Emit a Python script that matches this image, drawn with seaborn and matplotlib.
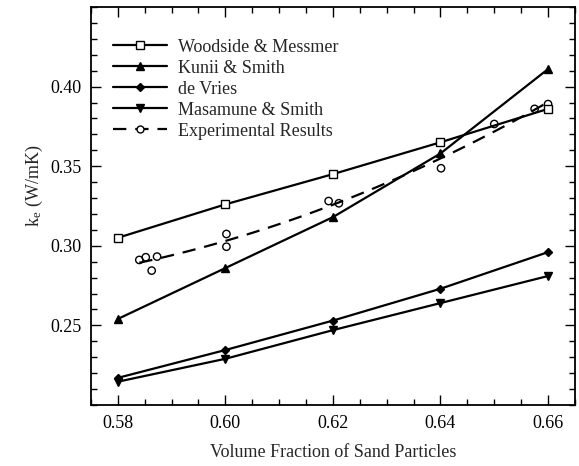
import matplotlib
matplotlib.use("Agg")
import matplotlib.pyplot as plt
from matplotlib.lines import Line2D
from matplotlib.ticker import MultipleLocator, FixedLocator, FormatStrFormatter
import seaborn as sns

# Volume fraction of sand particles at which the models were evaluated
volume_fraction = [0.58, 0.60, 0.62, 0.64, 0.66]

# Effective thermal conductivity predicted by each model (W/mK)
woodside_messmer = [0.305, 0.326, 0.345, 0.365, 0.386]
kunii_smith = [0.254, 0.286, 0.318, 0.358, 0.411]
de_vries = [0.217, 0.2345, 0.253, 0.273, 0.296]
masamune_smith = [0.2146, 0.229, 0.247, 0.264, 0.281]

# Measured effective thermal conductivity
exp_fraction = [0.5840, 0.5852, 0.5863, 0.5873, 0.6002, 0.6002,
                0.6192, 0.6211, 0.6401, 0.6500, 0.6575, 0.6600]
exp_conductivity = [0.2911, 0.2928, 0.2844, 0.2932, 0.3074, 0.2994,
                    0.3281, 0.3267, 0.3487, 0.3765, 0.3860, 0.3890]

x_ticks = [0.58, 0.60, 0.62, 0.64, 0.66]
y_ticks = [0.25, 0.30, 0.35, 0.40]

sns.set_style("ticks")
plt.rcParams["font.family"] = ["Liberation Serif", "DejaVu Serif"]
plt.rcParams["mathtext.fontset"] = "stix"

fig = plt.figure(figsize=(5.79, 4.66), dpi=100)
ax = fig.add_axes([0.157, 0.131, 0.836, 0.854])

models = [
    ("Woodside & Messmer", woodside_messmer, "s", "white"),
    ("Kunii & Smith", kunii_smith, "^", "black"),
    ("de Vries", de_vries, "D", "black"),
    ("Masamune & Smith", masamune_smith, "v", "black"),
]

handles = []
for label, values, marker, face in models:
    ms = 4 if marker == "D" else 5.5
    sns.lineplot(x=volume_fraction, y=values, ax=ax, color="black",
                 linewidth=1.6, marker=marker, markersize=ms,
                 markerfacecolor=face, markeredgecolor="black",
                 markeredgewidth=1.0, legend=False)
    handles.append(Line2D([], [], color="black", linewidth=1.6, marker=marker,
                          markersize=ms, markerfacecolor=face,
                          markeredgecolor="black", label=label))

# Experimental points with a second-order trend line
sns.regplot(x=exp_fraction, y=exp_conductivity, ax=ax, order=2, ci=None,
            scatter=False, truncate=True,
            line_kws=dict(color="black", linewidth=1.6, linestyle=(0, (6, 4))))
sns.scatterplot(x=exp_fraction, y=exp_conductivity, ax=ax, marker="o", s=28,
                facecolor="none", edgecolor="black", linewidth=1.0,
                legend=False)
handles.append(Line2D([], [], color="black", linewidth=1.6,
                      linestyle=(0, (6, 4)), marker="o", markersize=5,
                      markerfacecolor="white", markeredgecolor="black",
                      label="Experimental Results"))

ax.set_xlim(0.575, 0.665)
ax.set_ylim(0.20, 0.45)
ax.xaxis.set_major_locator(FixedLocator(x_ticks))
ax.xaxis.set_minor_locator(MultipleLocator(0.005))
ax.yaxis.set_major_locator(FixedLocator(y_ticks))
ax.yaxis.set_minor_locator(MultipleLocator(0.01))
ax.xaxis.set_major_formatter(FormatStrFormatter("%.2f"))
ax.yaxis.set_major_formatter(FormatStrFormatter("%.2f"))
ax.tick_params(which="both", direction="in", top=True, right=True,
               labelsize=13, colors="black", width=1.0)
ax.tick_params(which="major", length=7, pad=7)
ax.tick_params(which="minor", length=4)
for spine in ax.spines.values():
    spine.set_linewidth(1.3)
    spine.set_color("black")

ax.set_xlabel("Volume Fraction of Sand Particles", fontsize=13, labelpad=9)
ax.set_ylabel(r"k$_\mathregular{e}$ (W/mK)", fontsize=13)
ax.yaxis.set_label_coords(-0.094, 0.55)

ax.legend(handles=handles, loc="upper left", bbox_to_anchor=(0.02, 0.952),
          frameon=False, fontsize=13, handlelength=3.0, handletextpad=0.6,
          labelspacing=0.22, borderaxespad=0.3)

fig.savefig("out.png", dpi=100)
